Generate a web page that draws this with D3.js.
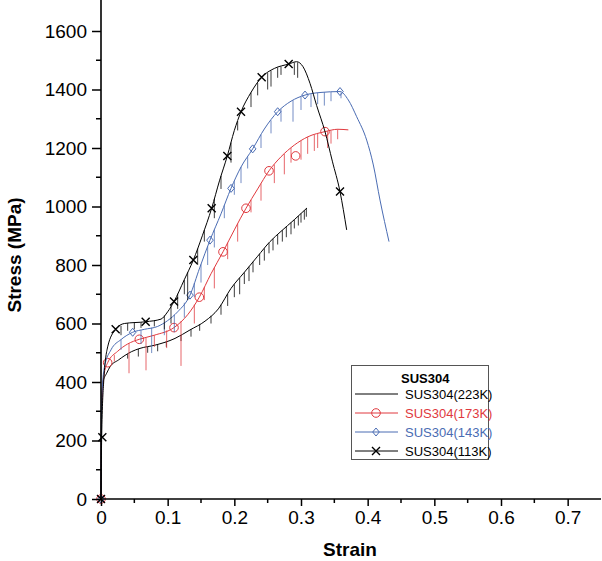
<!DOCTYPE html>
<html><head><meta charset="utf-8">
<script src="https://cdn.jsdelivr.net/npm/d3@7"></script>
<style>body{margin:0;background:#fff}svg{display:block;font-family:"Liberation Sans",Arial,sans-serif}</style>
</head><body><svg id="c" width="602" height="561"></svg>
<script>
// ---- data ----
const seriesNames = ["SUS304(223K)", "SUS304(173K)", "SUS304(143K)", "SUS304(113K)"];
const seriesColors = ["#000000", "#e0393e", "#4a6cb3", "#000000"];
const xTicks = [0, 0.1, 0.2, 0.3, 0.4, 0.5, 0.6, 0.7];
const yTicks = [0, 200, 400, 600, 800, 1000, 1200, 1400, 1600];

const curve223 = [[0,0],[0.001,300],[0.003,400],[0.0085,430],[0.0135,452],[0.026,475],[0.046,504],[0.0585,515],[0.081,526],[0.111,549],[0.1335,578],[0.156,608],[0.176,650],[0.195,720],[0.215,775],[0.235,830],[0.2535,880],[0.27,915],[0.29,955],[0.309,995]];
const curve173 = [[0,0],[0.001,320],[0.005,430],[0.01,466],[0.025,505],[0.04,530],[0.0575,546],[0.08,560],[0.1095,586],[0.13,630],[0.1475,690],[0.165,770],[0.183,845],[0.2,920],[0.2175,994],[0.235,1060],[0.252,1122],[0.27,1170],[0.29,1210],[0.31,1238],[0.336,1256],[0.355,1264],[0.371,1262]];
const curve143 = [[0,0],[0.001,330],[0.005,450],[0.015,510],[0.03,545],[0.0475,570],[0.065,580],[0.085,590],[0.1,610],[0.115,640],[0.1335,697],[0.148,790],[0.1635,885],[0.18,975],[0.195,1062],[0.21,1135],[0.2275,1197],[0.245,1265],[0.265,1324],[0.285,1360],[0.306,1381],[0.33,1390],[0.3585,1393],[0.371,1364],[0.3835,1307],[0.3985,1227],[0.4085,1142],[0.4185,1022],[0.432,880]];
const curve113 = [[0,0],[0.001,211],[0.004,400],[0.01,520],[0.022,580],[0.035,600],[0.067,606],[0.09,615],[0.1,640],[0.1095,675],[0.125,750],[0.1385,817],[0.152,900],[0.166,994],[0.178,1090],[0.1895,1173],[0.2,1260],[0.21,1324],[0.225,1390],[0.241,1442],[0.26,1472],[0.2815,1487],[0.2935,1495],[0.303,1478],[0.3135,1421],[0.3235,1345],[0.336,1256],[0.347,1155],[0.3585,1051],[0.3685,920]];

const marks173 = [[0,0],[0.01,466],[0.0575,546],[0.1095,586],[0.1475,690],[0.183,845],[0.2175,994],[0.252,1122],[0.292,1173],[0.336,1256]];
const marks143 = [[0,0],[0.0475,570],[0.1335,697],[0.1635,885],[0.195,1062],[0.2275,1197],[0.265,1324],[0.306,1381],[0.3585,1393]];
const marks113 = [[0,0],[0.002,211],[0.022,580],[0.067,606],[0.1095,675],[0.1385,817],[0.166,994],[0.1895,1173],[0.21,1324],[0.241,1442],[0.2815,1487],[0.3585,1051]];

// serration drops: [strain, lowest stress]
const drops223 = [[0.04,480],[0.056,487],[0.07,500],[0.085,505],[0.098,520],[0.12,540],[0.135,555],[0.148,575],[0.165,600],[0.18,630],[0.19,660],[0.2,690],[0.208,700],[0.215,735],[0.222,745],[0.228,775],[0.238,800],[0.245,815],[0.252,840],[0.258,850],[0.265,870],[0.272,880],[0.278,895],[0.285,905],[0.29,925],[0.296,935],[0.3,945],[0.305,955],[0.308,965]];
const drops173 = [[0.02,470],[0.042,430],[0.0675,440],[0.08,520],[0.0985,516],[0.12,455],[0.14,600],[0.155,680],[0.17,720],[0.19,820],[0.205,880],[0.225,980],[0.24,1020],[0.26,1080],[0.275,1110],[0.285,1150],[0.3,1160],[0.31,1180],[0.32,1190],[0.325,1200],[0.34,1200],[0.345,1215],[0.355,1230]];
const drops143 = [[0.03,510],[0.06,530],[0.076,499],[0.095,560],[0.11,570],[0.125,620],[0.14,690],[0.15,740],[0.16,800],[0.17,860],[0.185,960],[0.2,1040],[0.21,1080],[0.22,1130],[0.24,1200],[0.255,1250],[0.27,1290],[0.288,1290],[0.3,1330],[0.315,1340],[0.325,1350],[0.335,1345],[0.345,1360],[0.36,1370]];
const drops113 = [[0.03,560],[0.04,575],[0.05,580],[0.06,585],[0.08,590],[0.095,580],[0.105,600],[0.115,650],[0.125,700],[0.13,680],[0.145,800],[0.155,880],[0.17,960],[0.18,1060],[0.195,1150],[0.205,1260],[0.225,1340],[0.235,1380],[0.25,1400],[0.255,1410],[0.265,1440],[0.27,1450],[0.29,1450],[0.295,1440]];

const curves = [curve223, curve173, curve143, curve113];
const marks = [null, marks173, marks143, marks113];
const drops = [drops223, drops173, drops143, drops113];
const markerKind = [null, "circle", "diamond", "cross"];

// ---- chart ----
const svg = d3.select("#c");
const x = d3.scaleLinear().domain([0, 0.75]).range([101, 601]);
const y = d3.scaleLinear().domain([0, 1700]).range([499, 1.75]);

function valueAt(c, s) {
  for (let i = 1; i < c.length; i++) {
    if (s <= c[i][0]) {
      const [x0, y0] = c[i-1], [x1, y1] = c[i];
      return y0 + (y1 - y0) * (s - x0) / (x1 - x0);
    }
  }
  return c[c.length-1][1];
}

const line = d3.line().x(d => x(d[0])).y(d => y(d[1])).curve(d3.curveMonotoneX);

function drawMarker(g, kind, cx, cy, color) {
  if (kind === "circle") {
    g.append("circle").attr("cx", cx).attr("cy", cy).attr("r", 4.3)
      .attr("fill", "none").attr("stroke", color).attr("stroke-width", 1);
  } else if (kind === "diamond") {
    g.append("path").attr("d", `M${cx},${cy-4}L${cx+3.3},${cy}L${cx},${cy+4}L${cx-3.3},${cy}Z`)
      .attr("fill", "none").attr("stroke", color).attr("stroke-width", 1);
  } else if (kind === "cross") {
    g.append("path").attr("d", `M${cx-4},${cy-4}L${cx+4},${cy+4}M${cx-4},${cy+4}L${cx+4},${cy-4}`)
      .attr("fill", "none").attr("stroke", color).attr("stroke-width", 1.4);
  }
}

const plot = svg.append("g");
curves.forEach((c, i) => {
  const col = seriesColors[i];
  const g = plot.append("g");
  g.selectAll("line.drop").data(drops[i]).join("line")
    .attr("x1", d => x(d[0])).attr("x2", d => x(d[0]))
    .attr("y1", d => y(valueAt(c, d[0]))).attr("y2", d => y(d[1]))
    .attr("stroke", col).attr("stroke-width", 0.9).attr("opacity", 0.85);
  g.append("path").attr("d", line(c)).attr("fill", "none")
    .attr("stroke", col).attr("stroke-width", 1);
  if (marks[i]) marks[i].forEach(m => drawMarker(g, markerKind[i], x(m[0]), y(m[1]), col));
});

// axes
const xAxis = svg.append("g").attr("transform", "translate(0,499)");
xAxis.call(d3.axisBottom(x).tickValues(xTicks).tickFormat(d3.format("")).tickSize(7).tickPadding(5));
xAxis.append("g").selectAll("line").data(d3.range(0.05, 0.75, 0.1)).join("line")
  .attr("x1", d => x(d)).attr("x2", d => x(d)).attr("y1", 0).attr("y2", 4).attr("stroke", "#000").attr("stroke-width", 1.5);
const yAxis = svg.append("g").attr("transform", "translate(101,0)");
yAxis.call(d3.axisLeft(y).tickValues(yTicks).tickFormat(d3.format("d")).tickSize(9).tickPadding(5));
yAxis.append("g").selectAll("line").data(d3.range(100, 1700, 200)).join("line")
  .attr("y1", d => y(d)).attr("y2", d => y(d)).attr("x1", 0).attr("x2", -5).attr("stroke", "#000").attr("stroke-width", 1.5);
[xAxis, yAxis].forEach(a => {
  a.select(".domain").attr("stroke-width", 1.6);
  a.selectAll(".tick line").attr("stroke-width", 1.5);
  a.selectAll(".tick text").attr("font-size", "19px").attr("font-family", "Liberation Sans, Arial, sans-serif").attr("fill", "#000");
});
yAxis.select(".domain").attr("d", "M0,499V0");
xAxis.select(".domain").attr("d", "M101,0H601");

svg.append("text").attr("x", 350).attr("y", 556).attr("text-anchor", "middle")
  .attr("font-weight", "bold").attr("font-size", "19px").text("Strain");
svg.append("text").attr("transform", "translate(21,255) rotate(-90)").attr("text-anchor", "middle")
  .attr("font-weight", "bold").attr("font-size", "19px").text("Stress (MPa)");

// legend
const lg = svg.append("g");
lg.append("rect").attr("x", 351.5).attr("y", 365.5).attr("width", 137).attr("height", 94)
  .attr("fill", "#fff").attr("stroke", "#555").attr("stroke-width", 1);
lg.append("text").attr("x", 401).attr("y", 383).attr("font-weight", "bold").attr("font-size", "13px").text("SUS304");
seriesNames.forEach((n, i) => {
  const cy = 394 + i * 19;
  lg.append("line").attr("x1", 355).attr("x2", 398).attr("y1", cy).attr("y2", cy)
    .attr("stroke", seriesColors[i]).attr("stroke-width", 1);
  if (markerKind[i]) drawMarker(lg, markerKind[i], 376, cy, seriesColors[i]);
  lg.append("text").attr("x", 405).attr("y", cy + 5).attr("font-size", "13px")
    .attr("fill", seriesColors[i]).text(n);
});
</script></body></html>
